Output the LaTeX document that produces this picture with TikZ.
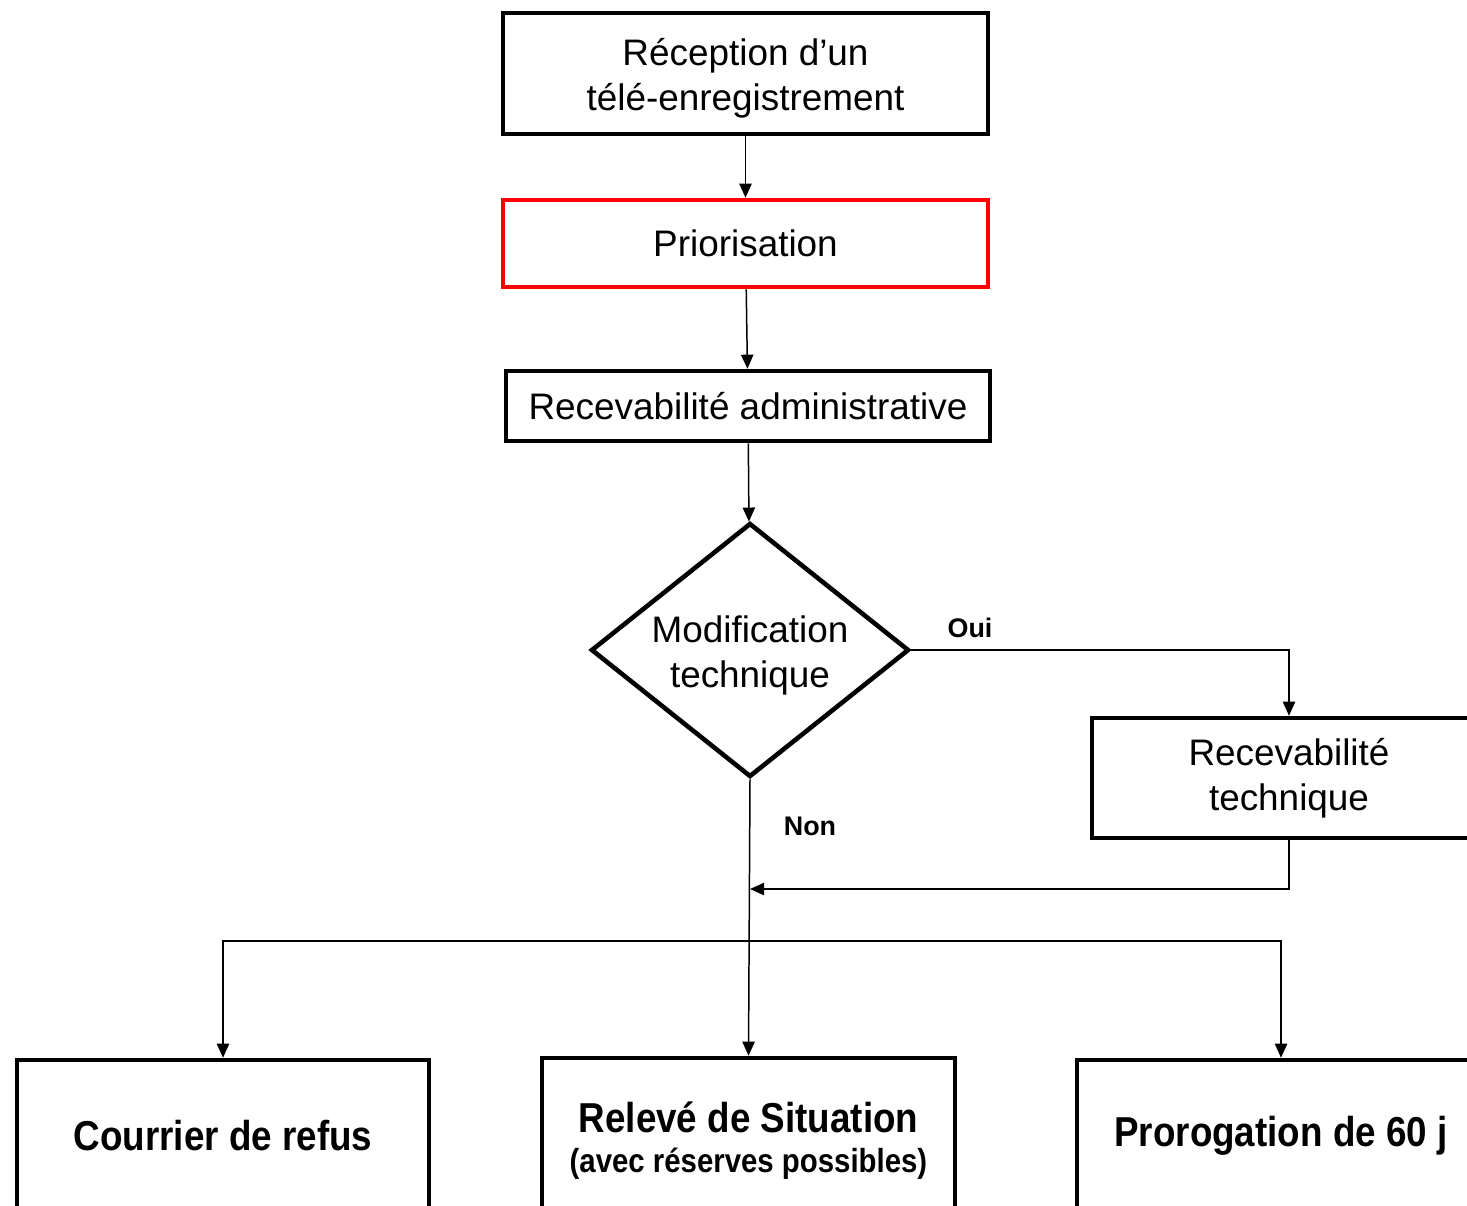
\documentclass[tikz,border=0pt]{standalone}
\usepackage{fontspec}
\setmainfont{Liberation Sans}
\newfontfamily\condbf[FakeStretch=0.88]{Liberation Sans}
\usetikzlibrary{arrows.meta, shapes.geometric}
\tikzset{
    box/.style={draw, line width=2.6pt, inner sep=0pt, align=center, font=\fontsize{21pt}{25.5pt}\selectfont}, % boîtes d'étape
    fin/.style={box, font=\condbf\bfseries\fontsize{23.8pt}{22.5pt}\selectfont}, % boîtes de sortie
    link/.style={line width=0.85pt, -{Triangle[length=8pt, width=7pt]}}, % connecteurs
    tag/.style={font=\bfseries\fontsize{15.3pt}{17pt}\selectfont} % Oui / Non
}

\begin{document}
\begin{tikzpicture}[x=0.02cm, y=-0.02cm]
    \useasboundingbox (0,0) rectangle (1467,1205);
    \clip (0,0) rectangle (1467,1205);

    \node[box, minimum width=9.7cm, minimum height=2.42cm] (recep) at (745.5,73.5) {\rule{0pt}{21pt}Réception d’un\\télé-enregistrement};
    \node[box, draw=red, minimum width=9.7cm, minimum height=1.74cm] (prio) at (745.5,243.5) {Priorisation};
    \node[box, minimum width=9.68cm, minimum height=1.4cm] (recadm) at (748,406) {Recevabilité administrative};
    \node[box, diamond, aspect=1.25, minimum width=6.36cm, minimum height=5.08cm] (modif) at (750,650) {\rule{0pt}{21pt}Modification\\technique};
    \node[box, minimum width=7.88cm, minimum height=2.4cm] (rectec) at (1289,778) {Recevabilité\\technique};

    \node[fin, minimum width=8.24cm, minimum height=3.04cm] (refus) at (223,1136) {Courrier de refus};
    \node[fin, minimum width=8.26cm, minimum height=3.12cm] (releve) at (748.5,1136) {\rule{0pt}{22.5pt}Relevé de Situation\\{\fontsize{19pt}{22.5pt}\selectfont (avec réserves possibles)}};
    \node[fin, minimum width=8.16cm, minimum height=3.04cm] (prorog) at (1281,1136) {Prorogation de 60 j};

    \node[tag] (oui) at (970,628) {Oui};
    \node[tag] (non) at (810,826) {Non};

    \coordinate (merge) at (750,889);
    \coordinate (split) at (750,941);

    \draw[link] (recep) -- (prio);
    \draw[link] (prio) -- (recadm);
    \draw[link] (recadm) -- (modif);
    \draw[link] (modif.east) -| (rectec.north);
    \draw[link] (rectec.south) |- (merge);
    \draw[link] (modif.south) -- (releve.north);
    \draw[link] (split) -| (refus.north);
    \draw[link] (split) -| (prorog.north);
\end{tikzpicture}
\end{document}
